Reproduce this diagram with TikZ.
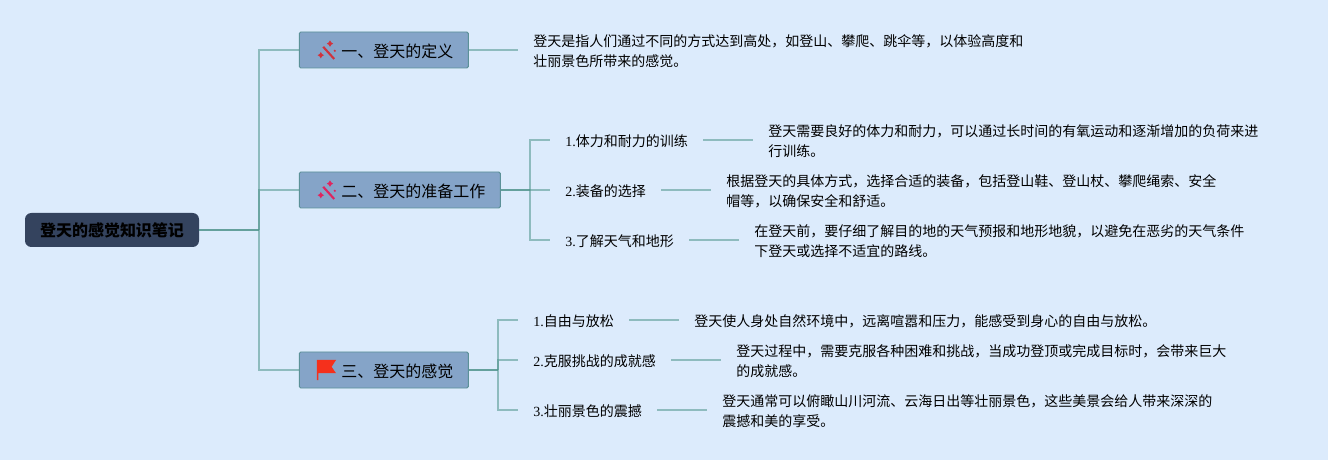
\documentclass[tikz,border=0pt]{standalone}
\usepackage{fontspec}
\setmainfont{Noto Sans CJK SC}
\newfontfamily\numfont{Liberation Serif}
\usetikzlibrary{positioning}
\definecolor{mmBack}{RGB}{220,235,252}
\definecolor{mmRoot}{RGB}{52,67,94}
\definecolor{mmTopic}{RGB}{133,164,200}
\definecolor{mmEdge}{RGB}{92,145,152}
\definecolor{mmLine}{RGB}{79,148,140}
\definecolor{mmWandA}{RGB}{209,50,60}
\definecolor{mmWandB}{RGB}{224,36,94}
\definecolor{mmFlag}{RGB}{245,48,28}
% magic wand icon, #1 = left top of the icon, #2 = colour
\newcommand{\wandicon}[2]{
  \begin{scope}[shift={(#1)}, #2]
    \draw[line width=1.5pt] (0.1,-0.17) -- (0.375,-0.475);
    \fill (0.27,-0.01) -- (0.3,-0.06) -- (0.35,-0.09) -- (0.3,-0.12) -- (0.27,-0.17) -- (0.24,-0.12) -- (0.19,-0.09) -- (0.24,-0.06) -- cycle;
    \fill (0.04,-0.3) -- (0.07,-0.35) -- (0.12,-0.38) -- (0.07,-0.41) -- (0.04,-0.46) -- (0.01,-0.41) -- (-0.04,-0.38) -- (0.01,-0.35) -- cycle;
    \fill (0.39,-0.27) circle (0.03);
  \end{scope}
}
\newcommand{\topicgap}{\hspace*{0.675cm}}

\begin{document}
\begin{tikzpicture}[
  every node/.style={font=\fontsize{9.96}{14.2}\selectfont},
  rootbox/.style={fill=mmRoot, rounded corners=4.5pt, minimum width=4.35cm, minimum height=0.85cm, inner sep=0pt, font=\fontsize{11.38}{14}\selectfont\bfseries},
  topicbox/.style={draw=mmEdge, fill=mmTopic, line width=0.7pt, rounded corners=1pt, anchor=west, minimum height=0.9cm, inner xsep=0.375cm, inner ysep=0pt, text height=11.4pt, text depth=1.4pt, font=\fontsize{11.38}{14}\selectfont},
  subbox/.style={anchor=west, inner xsep=0.375cm, inner ysep=1pt, text height=10pt, text depth=1pt},
  notebox/.style={anchor=west, yshift=-0.0375cm, inner xsep=0.375cm, inner ysep=1pt, align=left},
  mainline/.style={draw=mmLine, line width=1.4pt, draw opacity=0.85},
  branch/.style={draw=mmLine, line width=1.1pt, draw opacity=0.55},
]
\useasboundingbox[fill=mmBack] (0,0) rectangle (33.2,-11.5);
% root
\node[rootbox] (root) at (2.8,-5.75) {登天的感觉知识笔记};
\coordinate (trunk) at (6.475,-5.75);
% topics
\node[topicbox] (def) at (7.47,-1.25) {\topicgap 一、登天的定义};
\node[topicbox] (prep) at (7.47,-4.75) {\topicgap 二、登天的准备工作};
\node[topicbox] (feel) at (7.47,-9.25) {\topicgap 三、登天的感觉};
\draw[mainline] (root.east) -- (trunk);
\draw[branch] (trunk) |- (def.west);
\draw[branch] (trunk) |- (prep.west);
\draw[branch] (trunk) |- (feel.west);
% icons
\wandicon{7.98,-1.0}{mmWandA}
\wandicon{7.98,-4.5}{mmWandB}
\fill[mmFlag] (7.92,-9.0) -- (8.4,-9.0) -- (8.29,-9.17) -- (8.4,-9.33) -- (7.96,-9.33) -- (7.96,-9.5) -- (7.92,-9.5) -- cycle;
% definition
\node[notebox] (defnote) at (12.95,-1.25) {登天是指人们通过不同的方式达到高处，如登山、攀爬、跳伞等，以体验高度和\\壮丽景色所带来的感觉。};
\draw[branch] (def.east) -- (def.east -| defnote.west);
% preparation
\coordinate (prepfork) at (13.25,-4.75);
\node[subbox] (sub1) at (13.75,-3.5) {{\numfont 1.}体力和耐力的训练};
\node[subbox] (sub2) at (13.75,-4.75) {{\numfont 2.}装备的选择};
\node[subbox] (sub3) at (13.75,-6) {{\numfont 3.}了解天气和地形};
\node[notebox] (note1) at (18.825,-3.5) {登天需要良好的体力和耐力，可以通过长时间的有氧运动和逐渐增加的负荷来进\\行训练。};
\node[notebox] (note2) at (17.775,-4.75) {根据登天的具体方式，选择合适的装备，包括登山鞋、登山杖、攀爬绳索、安全\\帽等，以确保安全和舒适。};
\node[notebox] (note3) at (18.475,-6) {在登天前，要仔细了解目的地的天气预报和地形地貌，以避免在恶劣的天气条件\\下登天或选择不适宜的路线。};
\draw[mainline] (prep.east) -- (prepfork);
\draw[branch] (prepfork) |- (sub1.west);
\draw[branch] (prepfork) -- (sub2.west);
\draw[branch] (prepfork) |- (sub3.west);
\draw[branch] (sub1.east) -- (sub1.east -| note1.west);
\draw[branch] (sub2.east) -- (sub2.east -| note2.west);
\draw[branch] (sub3.east) -- (sub3.east -| note3.west);
% feeling
\coordinate (feelfork) at (12.45,-9.25);
\node[subbox] (sub4) at (12.95,-8) {{\numfont 1.}自由与放松};
\node[subbox] (sub5) at (12.95,-9) {{\numfont 2.}克服挑战的成就感};
\node[subbox] (sub6) at (12.95,-10.25) {{\numfont 3.}壮丽景色的震撼};
\node[notebox] (note4) at (16.975,-8) {登天使人身处自然环境中，远离喧嚣和压力，能感受到身心的自由与放松。};
\node[notebox] (note5) at (18.025,-9) {登天过程中，需要克服各种困难和挑战，当成功登顶或完成目标时，会带来巨大\\的成就感。};
\node[notebox] (note6) at (17.675,-10.25) {登天通常可以俯瞰山川河流、云海日出等壮丽景色，这些美景会给人带来深深的\\震撼和美的享受。};
\draw[mainline] (feel.east) -- (feelfork);
\draw[branch] (feelfork) |- (sub4.west);
\draw[branch] (feelfork) |- (sub5.west);
\draw[branch] (feelfork) |- (sub6.west);
\draw[branch] (sub4.east) -- (sub4.east -| note4.west);
\draw[branch] (sub5.east) -- (sub5.east -| note5.west);
\draw[branch] (sub6.east) -- (sub6.east -| note6.west);
\end{tikzpicture}
\end{document}
